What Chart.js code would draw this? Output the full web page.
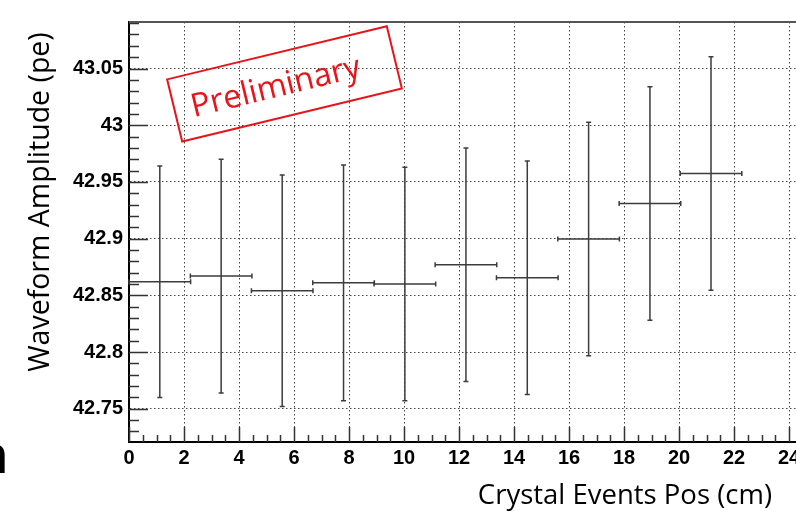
<!DOCTYPE html>
<html>
<head>
<meta charset="utf-8">
<script src="https://cdn.jsdelivr.net/npm/chart.js@4/dist/chart.umd.min.js"></script>
<style>
  html, body { margin: 0; padding: 0; background: #fff; }
  #wrap { width: 796px; height: 511px; position: relative; }
</style>
</head>
<body>
<div id="wrap"><canvas id="c" width="796" height="511"></canvas></div>
<script>
// data
const xVals = [1.12, 3.35, 5.57, 7.80, 10.03, 12.25, 14.48, 16.71, 18.94, 21.16];
const xHalf = [1.12, 1.12, 1.12, 1.12, 1.12, 1.12, 1.12, 1.12, 1.12, 1.12];
const yVals = [42.862, 42.867, 42.854, 42.861, 42.860, 42.877, 42.8655, 42.8997, 42.931, 42.9574];
const yErr = [0.102, 0.103, 0.102, 0.104, 0.103, 0.103, 0.103, 0.103, 0.103, 0.103];

const xTicks = [0, 2, 4, 6, 8, 10, 12, 14, 16, 18, 20, 22, 24];
const yTicks = [42.75, 42.8, 42.85, 42.9, 42.95, 43, 43.05];
const yTickLabels = ['42.75', '42.8', '42.85', '42.9', '42.95', '43', '43.05'];

const xTitle = 'Crystal Events Pos (cm)';
const yTitle = 'Waveform Amplitude (pe)';
const stampText = 'Preliminary';

const tickFont = { family: 'Liberation Sans', size: 20, weight: 'bold' };

// error bars with little end caps, root style
const errorBars = {
  id: 'errorBars',
  afterDatasetsDraw(chart) {
    const { ctx, scales: { x, y } } = chart;
    ctx.save();
    ctx.strokeStyle = '#3c3c3c';
    ctx.lineWidth = 1.5;
    for (let i = 0; i < xVals.length; i++) {
      const px = x.getPixelForValue(xVals[i]);
      const py = y.getPixelForValue(yVals[i]);
      const x0 = x.getPixelForValue(xVals[i] - xHalf[i]);
      const x1 = x.getPixelForValue(xVals[i] + xHalf[i]);
      const y0 = y.getPixelForValue(yVals[i] + yErr[i]);
      const y1 = y.getPixelForValue(yVals[i] - yErr[i]);
      ctx.beginPath();
      ctx.moveTo(x0, py); ctx.lineTo(x1, py);
      ctx.moveTo(px, y0); ctx.lineTo(px, y1);
      // caps
      ctx.moveTo(x0, py - 2.5); ctx.lineTo(x0, py + 2.5);
      ctx.moveTo(x1, py - 2.5); ctx.lineTo(x1, py + 2.5);
      ctx.moveTo(px - 2.5, y0); ctx.lineTo(px + 2.5, y0);
      ctx.moveTo(px - 2.5, y1); ctx.lineTo(px + 2.5, y1);
      ctx.stroke();
    }
    ctx.restore();
  }
};

// inner ticks, frame, titles and the stamp
const decor = {
  id: 'decor',
  afterDraw(chart) {
    const { ctx, chartArea: a, scales: { x, y } } = chart;
    ctx.save();
    ctx.strokeStyle = '#333';
    ctx.lineWidth = 1.5;
    ctx.beginPath();
    // y ticks, minor every 0.01
    for (let k = 0; k <= 40; k++) {
      const v = 42.73 + k * 0.01;
      if (v > y.max || v < y.min) continue;
      const py = Math.round(y.getPixelForValue(v)) + 0.5;
      const major = Math.abs(Math.round(v * 20) - v * 20) < 1e-6;
      ctx.moveTo(a.left, py); ctx.lineTo(a.left + (major ? 19 : 10), py);
    }
    // x ticks, minor every 0.5
    for (let k = 0; k <= 49; k++) {
      const v = k * 0.5;
      if (v > x.max) continue;
      const px = Math.round(x.getPixelForValue(v)) + 0.5;
      const major = k % 4 === 0;
      ctx.moveTo(px, a.bottom); ctx.lineTo(px, a.bottom - (major ? 15 : 7));
    }
    ctx.stroke();

    // top frame
    ctx.strokeStyle = '#555';
    ctx.lineWidth = 2;
    ctx.beginPath();
    ctx.moveTo(a.left, a.top); ctx.lineTo(796, a.top);
    ctx.stroke();

    // titles
    ctx.fillStyle = '#000';
    ctx.font = '27.5px "Open Sans"';
    ctx.textAlign = 'right';
    ctx.textBaseline = 'alphabetic';
    ctx.fillText(xTitle, 772, 504);
    ctx.save();
    ctx.translate(49, 202);
    ctx.rotate(-Math.PI / 2);
    ctx.textAlign = 'center';
    ctx.font = '28.5px "Open Sans"';
    ctx.fillText(yTitle, 0, 0);
    ctx.restore();

    // cropped letter at left edge
    ctx.fillStyle = '#000';
    ctx.font = 'bold 54px "Liberation Sans"';
    ctx.textAlign = 'right';
    ctx.fillText('n', 8, 473);

    // Preliminary stamp
    ctx.save();
    ctx.translate(284.5, 83.9);
    ctx.rotate(-13.6 * Math.PI / 180);
    ctx.strokeStyle = '#e8141b';
    ctx.lineWidth = 2;
    ctx.strokeRect(-113, -32, 226, 64);
    ctx.fillStyle = '#e8141b';
    ctx.font = '32.5px "Open Sans"';
    ctx.textAlign = 'left';
    ctx.fillText(stampText, -96, 11);
    ctx.restore();
    ctx.restore();
  }
};

new Chart(document.getElementById('c'), {
  type: 'scatter',
  data: {
    datasets: [{
      data: xVals.map((v, i) => ({ x: v, y: yVals[i] })),
      pointRadius: 0,
      showLine: false
    }]
  },
  options: {
    responsive: false,
    animation: false,
    events: [],
    layout: { padding: { top: 22, right: 0, left: 0, bottom: 0 } },
    plugins: { legend: { display: false }, tooltip: { enabled: false } },
    scales: {
      x: {
        type: 'linear',
        min: 0,
        max: 24.25,
        afterBuildTicks: s => { s.ticks = xTicks.map(v => ({ value: v })); },
        afterFit: s => { s.height = 69; s.paddingLeft = 0; s.paddingRight = 0; },
        grid: { color: '#444', lineWidth: 1, drawTicks: false },
        border: { display: true, color: '#000', width: 2, dash: [1.5, 2.5] },
        ticks: { font: tickFont, color: '#000', padding: 4, maxRotation: 0, autoSkip: false,
                 callback: v => String(v) }
      },
      y: {
        type: 'linear',
        min: 42.7207,
        max: 43.091,
        afterBuildTicks: s => { s.ticks = yTicks.map(v => ({ value: v })); },
        afterFit: s => { s.width = 129; s.paddingTop = 0; s.paddingBottom = 0; },
        grid: { color: '#444', lineWidth: 1, drawTicks: false },
        border: { display: true, color: '#000', width: 2, dash: [1.5, 2.5] },
        ticks: { font: tickFont, color: '#000', padding: 6,
                 callback: (v, i) => yTickLabels[i] }
      }
    }
  },
  plugins: [errorBars, decor]
});
</script>
</body>
</html>
